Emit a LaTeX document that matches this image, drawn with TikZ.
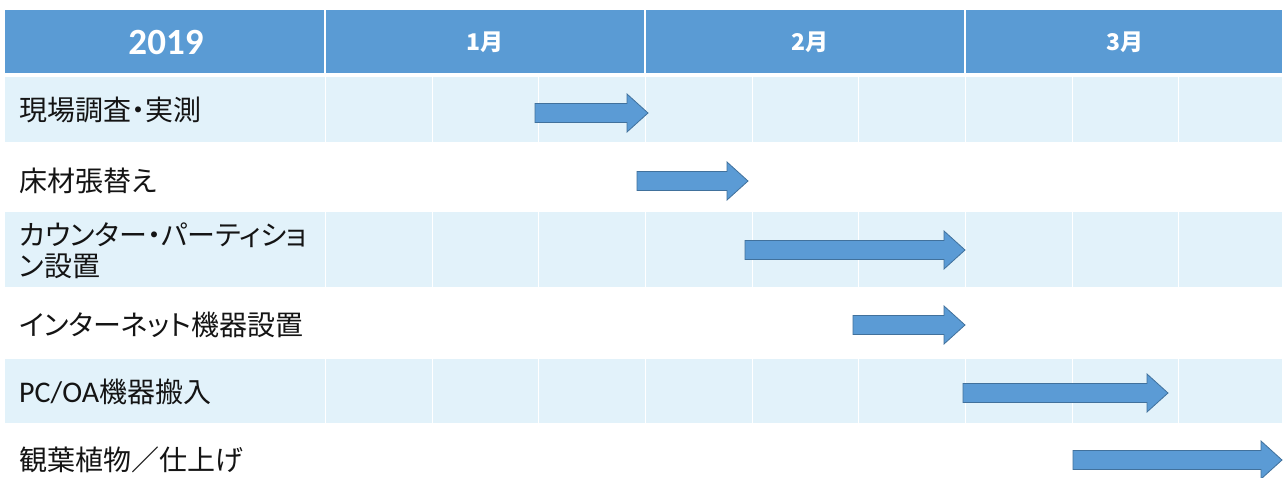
\documentclass[tikz,border=0pt]{standalone}
\usepackage{fontspec}
\usetikzlibrary{calc}
\newfontfamily\jpfont[RawFeature={+palt}]{Noto Sans CJK JP}
\newfontfamily\calfont{Carlito}
\definecolor{hdr}{RGB}{90,155,212}
\definecolor{band}{RGB}{226,242,250}
\definecolor{arrfill}{RGB}{91,155,213}
\definecolor{arrline}{RGB}{65,113,156}
\definecolor{txt}{RGB}{20,20,20}
\tikzset{
  lbl/.style={anchor=west, inner sep=0pt, text=txt, font=\jpfont\fontsize{28}{31}\selectfont, align=left},
  hdrtxt/.style={text=white, inner sep=0pt},
  barrow/.style={fill=arrfill, draw=arrline, line width=0.8pt, line join=miter},
  sep/.style={draw=white, line width=1.5pt},
  subsep/.style={draw=white, line width=0.7pt}
}
\newcommand\gbar[4]{%
  \coordinate (#1s) at (#2,#4);
  \coordinate (#1e) at (#3,#4);
  \draw[barrow] ($(#1s)+(0,-9.5)$) -- ($(#1e)+(-21,-9.5)$) -- ($(#1e)+(-21,-19)$) -- (#1e)
     -- ($(#1e)+(-21,19)$) -- ($(#1e)+(-21,9.5)$) -- ($(#1s)+(0,9.5)$) -- cycle;
}
\begin{document}
\begin{tikzpicture}[x=1pt,y=-1pt]
\useasboundingbox (0,0) rectangle (1285,477);
\fill[white] (0,0) rectangle (1285,477);
% header
\fill[hdr] (5,10) rectangle (1282,73);
\foreach \x in {325,645,965} \draw[sep] (\x,10) -- (\x,73);
% bands
\fill[band] (5,77) rectangle (1282,142);
\fill[band] (5,212) rectangle (1282,287);
\fill[band] (5,359) rectangle (1282,423);
\foreach \ya/\yb in {77/142,212/287,359/423}{
  \foreach \x in {325,432,538,645,752,858,965,1072,1178} \draw[subsep] (\x,\ya) -- (\x,\yb);
}
% header texts
\node[hdrtxt, font=\calfont\bfseries\fontsize{37}{40}\selectfont] (h0) at (166,42) {2019};
\node[hdrtxt, font=\jpfont\bfseries\fontsize{23}{26}\selectfont] (h1) at (485,42) {1月};
\node[hdrtxt, font=\jpfont\bfseries\fontsize{23}{26}\selectfont] (h2) at (810,42) {2月};
\node[hdrtxt, font=\jpfont\bfseries\fontsize{23}{26}\selectfont] (h3) at (1125,42) {3月};
% row labels
\node[lbl] (r1) at (19,110) {現場調査・実測};
\node[lbl] (r2) at (19,181) {床材張替え};
\node[lbl] (r3) at (19,251) {カウンター・パーティショ\\ン設置};
\node[lbl] (r4) at (19,325) {インターネット機器設置};
\node[lbl] (r5) at (19,392) {{\calfont\fontsize{30}{31}\selectfont PC/OA}機器搬入};
\node[lbl] (r6) at (19,460) {観葉植物／仕上げ};
% bars
\gbar{a1}{535}{648}{113}
\gbar{a2}{637}{748}{181}
\gbar{a3}{745}{965}{250}
\gbar{a4}{853}{965}{325}
\gbar{a5}{963}{1168}{393}
\gbar{a6}{1073}{1282}{460}
\end{tikzpicture}
\end{document}
